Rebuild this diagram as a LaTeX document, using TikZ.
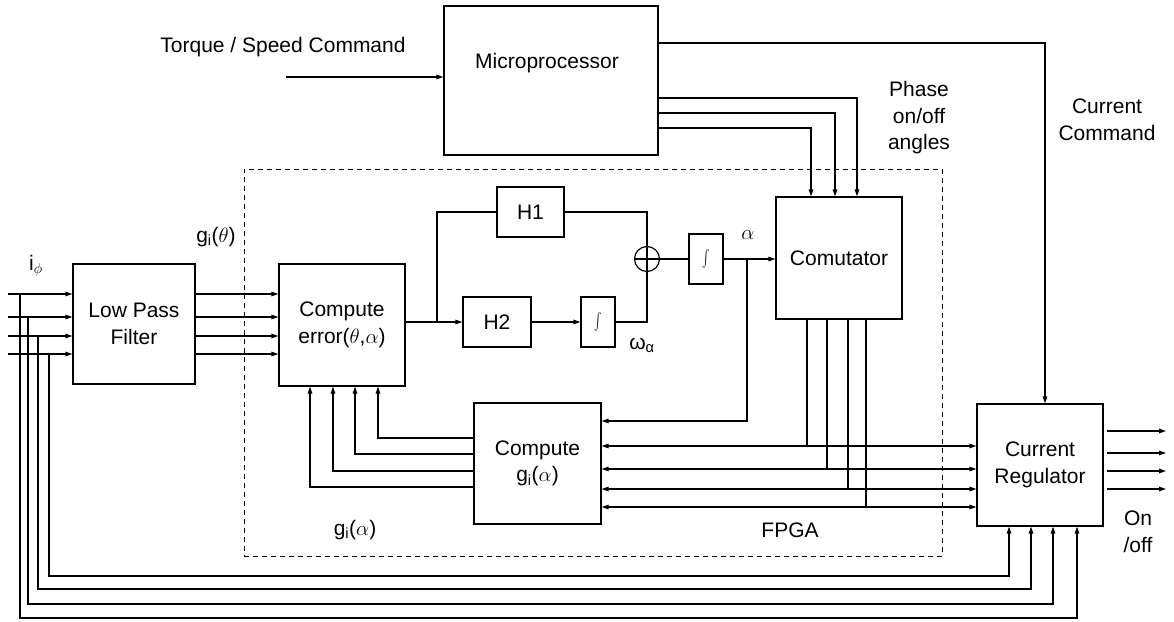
\documentclass[tikz,border=0pt]{standalone}
\usepackage{graphicx}
\usepackage{fontspec}
\setmainfont{Liberation Sans}
\usetikzlibrary{arrows.meta,positioning,calc}

\begin{document}
\begin{tikzpicture}[
    x=1pt, y=-1pt,
    line width=1.2pt,
    font=\fontsize{21}{26.5}\selectfont,
    block/.style={draw, minimum width=126pt, minimum height=122pt, inner sep=0pt, align=center},
    hbox/.style={draw, minimum width=67pt, minimum height=50pt, inner sep=0pt},
    integ/.style={draw, minimum width=34pt, minimum height=50pt, inner sep=0pt, font=\fontsize{21}{21}\selectfont},
    lbl/.style={align=center, inner sep=0pt},
    >={Triangle[length=7pt,width=4.5pt]}
]
\useasboundingbox (0,0) rectangle (1174,621);

% Blocks
\node[draw, minimum width=214pt, minimum height=149pt] (mp) at (551,80.5) {};
\node[lbl] (mptext) at (547,63) {Microprocessor};
\node[block, minimum width=122pt, minimum height=120pt] (lpf) at (134,324) {Low Pass\\Filter};
\node[block] (cerr) at (342,325) {Compute\\error($\theta$,$\alpha$)};
\node[hbox] (h1) at (530.5,212) {H1};
\node[hbox, minimum width=68pt] (h2) at (497,322) {H2};
\node[integ] (int2) at (598,322) {\scalebox{1.1}[1.7]{$\int$}};
\node[draw, circle, minimum size=25pt, inner sep=0pt] (sum) at (647,259) {};
\draw (sum.north) -- (sum.south) (sum.west) -- (sum.east);
\node[integ] (int1) at (706,259) {\scalebox{1.1}[1.7]{$\int$}};
\node[block] (com) at (839,258) {Comutator};
\node[block, minimum width=127pt, minimum height=121pt] (cg) at (537.5,463.5) {Compute\\g\textsubscript{i}($\alpha$)};
\node[block] (creg) at (1040,465) {Current\\Regulator};
\node[draw, line width=1pt, dash pattern=on 5pt off 4pt, minimum width=698pt, minimum height=387pt] (fpga) at (593,362.5) {};

% Labels
\node[lbl] (torque) at (283,47) {Torque / Speed Command};
\node[lbl] (phase) at (919,118) {Phase\\on/off\\angles};
\node[lbl] (ccmd) at (1107,120) {Current\\Command};
\node[lbl] (iphi) at (36,266) {i$_\phi$};
\node[lbl] (gtheta) at (216,237) {g\textsubscript{i}($\theta$)};
\node[lbl] (alab) at (748,235) {$\alpha$};
\node[lbl] (wlab) at (642,345) {ω\textsubscript{α}};
\node[lbl] (galpha) at (355,530) {g\textsubscript{i}($\alpha$)};
\node[lbl] (fpgalab) at (790,530) {FPGA};
\node[lbl] (onoff) at (1138,532) {On\\/off};

% Microprocessor commands
\coordinate (tqin) at (286,77);
\draw[->] (tqin) -- (tqin -| mp.west);
\coordinate (cc) at (1045,43);
\draw[->] (cc -| mp.east) -- (cc) -- (cc |- creg.north);
\foreach \y/\x in {98/857, 113/835, 128/811}
    \draw[->] (mp.east |- \x,\y) -- (\x,\y) -- (\x,\y |- com.north);

% Phase estimator loop
\coordinate (br) at (437,322);
\draw[->] (cerr.east |- h2.west) -- (h2.west);
\draw (br) |- (h1.west);
\draw[->] (h2.east) -- (int2.west);
\draw (h1.east) -| (sum.north);
\draw (int2.east) -| (sum.south);
\draw (sum.east) -- (int1.west);
\draw[->] (int1.east) -- (int1.east -| com.west);
\coordinate (ab) at (747,421);
\draw[->] (int1.east -| ab) |- (ab -| cg.east);

% Buses to current regulator
\foreach \y/\x in {446/807, 469/827, 489/848, 507/866} {
    \draw (\x,\y |- com.south) -- (\x,\y);
    \draw[<->] (cg.east |- \x,\y) -- (creg.west |- \x,\y);
}
\foreach \y/\x in {438/378, 454/355, 471/333, 487/310}
    \draw[->] (cg.west |- \x,\y) -| (\x,\y |- cerr.south);

% Phase currents
\coordinate (in) at (8,0);
\foreach \y in {294,317,336,354} {
    \draw[->] (in |- 0,\y) -- (lpf.west |- 0,\y);
    \draw[->] (lpf.east |- 0,\y) -- (cerr.west |- 0,\y);
}
\foreach \x/\y/\yb/\xe in {20/294/618/1077, 28/317/604/1053, 38/336/589/1031, 49/354/576/1009}
    \draw[->] (\x,\y) |- (\xe,\yb) -- (\xe,\yb |- creg.south);

% Outputs
\coordinate (out) at (1166,0);
\foreach \y in {431,453,471,489}
    \draw[->] ([xshift=3pt]creg.east |- 0,\y) -- (out |- 0,\y);

\end{tikzpicture}
\end{document}
